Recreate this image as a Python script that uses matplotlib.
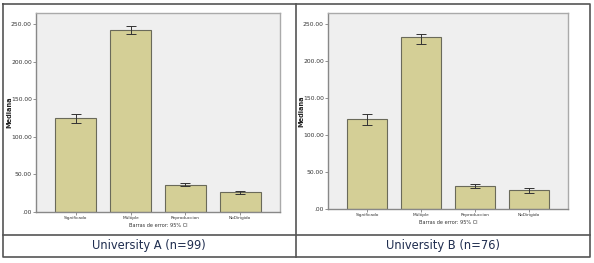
import matplotlib
matplotlib.use('Agg')
import matplotlib.pyplot as plt
import numpy as np

categorias = ['Significado', 'Múltiple', 'Reproduccion', 'NoDirigido']
mediana_a = [125, 243, 36, 26]
ci_bajo_a = [119, 237, 34, 24]
ci_alto_a = [131, 248, 38, 28.3]
mediana_b = [122, 232, 31.6, 25.7]
ci_bajo_b = [113, 223.3, 29, 21.7]
ci_alto_b = [128.6, 236.8, 33.4, 28]
ticks_y = [0, 50, 100, 150, 200, 250]
etiquetas_y = ['.00', '50.00', '100.00', '150.00', '200.00', '250.00']
titulos = ['University A (n=99)', 'University B (n=76)']

W, H = 594, 263
fig = plt.figure(figsize=(W / 100, H / 100), dpi=100)
fig.patch.set_facecolor('white')

# fondo con la tabla
bg = fig.add_axes([0, 0, 1, 1])
bg.set_xlim(0, W)
bg.set_ylim(H, 0)
bg.axis('off')
borde = '#555555'
bg.plot([3, 590, 590, 3, 3], [3.5, 3.5, 257, 257, 3.5], color=borde, lw=1.2)
bg.plot([295.5, 295.5], [3.5, 257], color=borde, lw=1.2)
bg.plot([3, 590], [235, 235], color=borde, lw=1.2)
bg.text(149, 246, titulos[0], ha='center', va='center', fontsize=8.3,
        color='#1f2d4f', family='DejaVu Sans')
bg.text(443, 246, titulos[1], ha='center', va='center', fontsize=8.3,
        color='#1f2d4f', family='DejaVu Sans')


def panel(x0, x1, y0, y1, med, lo, hi):
    ax = fig.add_axes([x0 / W, 1 - y1 / H, (x1 - x0) / W, (y1 - y0) / H])
    ax.set_facecolor('#efefef')
    x = np.arange(len(categorias))
    med = np.array(med)
    err = [med - np.array(lo), np.array(hi) - med]
    ax.bar(x, med, width=0.75, color='#d4cf96', edgecolor='#6a6a5a', linewidth=0.8, zorder=2)
    ax.errorbar(x, med, yerr=err, fmt='none', ecolor='#333333', elinewidth=0.7,
                capsize=3.5, capthick=0.7, zorder=3)
    ax.set_xlim(-0.73, 3.73)
    ax.set_ylim(0, 265)
    ax.set_yticks(ticks_y)
    ax.set_yticklabels(etiquetas_y, fontsize=4.3)
    ax.set_xticks(x)
    ax.set_xticklabels(categorias, fontsize=3.1)
    ax.tick_params(length=2, width=0.5, pad=1, colors='#666666', labelcolor='#333333')
    ax.set_xlabel('Barras de error: 95% CI', fontsize=3.6, color='#333333', labelpad=2)
    ax.set_ylabel('Mediana', fontsize=4.8, fontweight='bold', color='#222222')
    ax.yaxis.set_label_coords(-24 / (x1 - x0), 0.5)
    for s in ax.spines.values():
        s.set_color('#aaaaaa')
        s.set_linewidth(1)
    ax.spines['left'].set_color('#888888')
    ax.spines['bottom'].set_color('#888888')
    return ax


panel(36, 280, 13, 212, mediana_a, ci_bajo_a, ci_alto_a)
panel(328, 568, 13, 209, mediana_b, ci_bajo_b, ci_alto_b)

fig.savefig('out.png', dpi=100)
